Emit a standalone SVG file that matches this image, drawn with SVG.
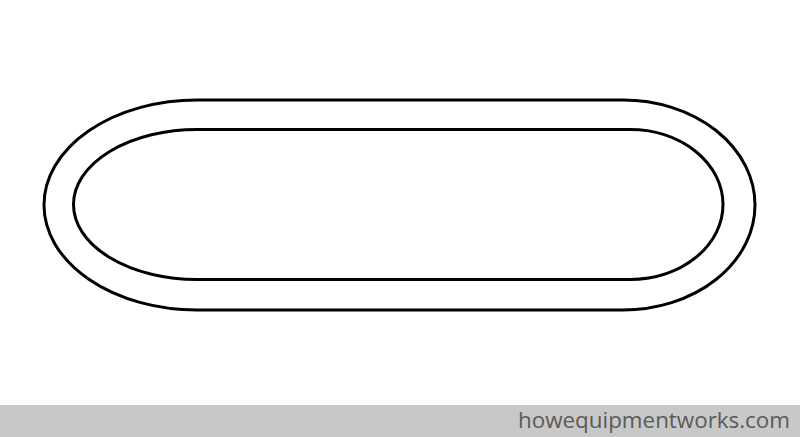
<svg xmlns="http://www.w3.org/2000/svg" width="800" height="437" viewBox="0 0 800 437">
<style>
.track{fill:none;stroke:#000;stroke-width:3}
.foot{font-family:"Open Sans","Liberation Sans",sans-serif;font-size:22px;fill:#5a5a5a}
</style>
<rect width="800" height="437" fill="#fff"/>
<g id="outer-track">
<path class="track" d="M197,100 H623 A132,105 0 0 1 623,310 H197 A153,105 0 0 1 197,100 Z"/>
</g>
<g id="inner-track">
<path class="track" d="M197,129.5 H630 A93,75 0 0 1 630,279.5 H197 A123.5,75 0 0 1 197,129.5 Z"/>
</g>
<g id="footer">
<rect x="0" y="405" width="800" height="32" fill="#c8c8c8"/>
<text class="foot" x="518" y="428" textLength="272" lengthAdjust="spacingAndGlyphs">howequipmentworks.com</text>
</g>
</svg>
